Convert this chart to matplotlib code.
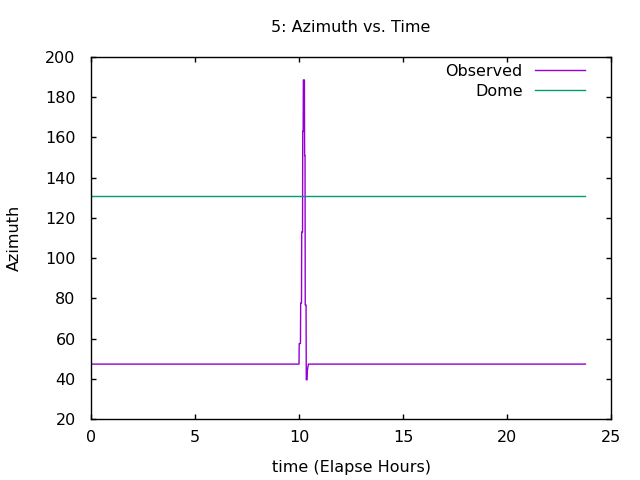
import matplotlib
matplotlib.use("Agg")
import matplotlib.pyplot as plt

# observed azimuth (hours, degrees) - flat with one spike near 10 h
obs_t = [0.0, 10.00, 10.01, 10.07, 10.08, 10.12, 10.13, 10.17, 10.18, 10.20,
         10.21, 10.26, 10.27, 10.29, 10.30, 10.34, 10.35, 10.39, 10.40, 10.45, 23.77]
obs_az = [47.3, 47.3, 57.5, 57.5, 77.7, 77.7, 113.0, 113.0, 163.0, 163.0,
          188.6, 188.6, 151.0, 151.0, 76.7, 76.7, 39.5, 39.5, 44.0, 47.3, 47.3]

dome_t = [0.0, 23.77]
dome_az = [131.0, 131.0]

fs = 11.5

fig = plt.figure(figsize=(6.4, 4.8), dpi=100)
ax = fig.add_axes([91/640, 61/480, 520/640, 362/480])

ax.plot(obs_t, obs_az, color="#9400d3", lw=1, label="Observed")
ax.plot(dome_t, dome_az, color="#009e73", lw=1, label="Dome")

ax.set_xlim(0, 25)
ax.set_ylim(20, 200)
ax.set_xticks(range(0, 26, 5))
ax.set_yticks(range(20, 201, 20))
for s in ax.spines.values():
    s.set_linewidth(1)
ax.tick_params(direction="in", top=True, right=True, labelsize=fs, length=3.5, width=1)
ax.tick_params(axis="y", pad=11)
ax.tick_params(axis="x", pad=8)

ax.set_title("5: Azimuth vs. Time", fontsize=fs, pad=18)
ax.set_xlabel("time (Elapse Hours)", fontsize=fs, labelpad=11)
ax.set_ylabel("Azimuth", fontsize=fs, labelpad=17)

ax.legend(loc="upper right", frameon=False, markerfirst=False, fontsize=fs,
          handlelength=3.1, handletextpad=0.8, borderaxespad=0, borderpad=0,
          labelspacing=0.3, bbox_to_anchor=((585 - 91) / 520, 1 - 7 / 362))

plt.savefig("out.png", dpi=100)
